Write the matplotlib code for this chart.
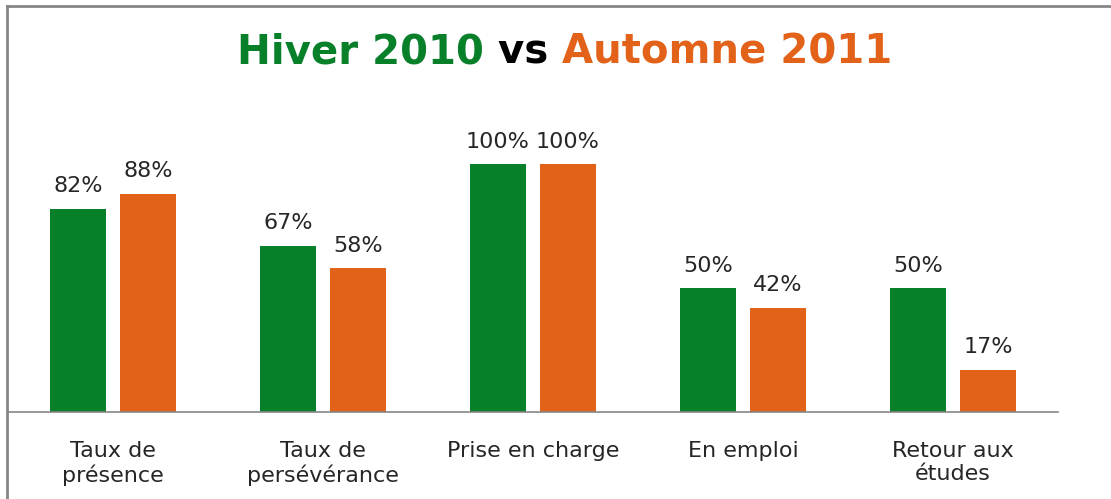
import matplotlib
matplotlib.use("Agg")
import matplotlib.pyplot as plt
import numpy as np
from matplotlib.lines import Line2D

categories = ["Taux de\nprésence", "Taux de\npersévérance", "Prise en charge",
              "En emploi", "Retour aux\nétudes"]
hiver_2010 = [82, 67, 100, 50, 50]
automne_2011 = [88, 58, 100, 42, 17]

GREEN = "#08802A"
ORANGE = "#E3621A"
INK = "#262626"
GRID = "#868686"

W, H = 1111, 499
fig = plt.figure(figsize=(W / 100, H / 100), dpi=100, facecolor="white")

# plot area in pixel coords: baseline y=412, 100% at y=164
base_y, top100 = 412, 164
px_per_unit = (base_y - top100) / 100
ymax = 120
top_y = base_y - ymax * px_per_unit
ax = fig.add_axes([8 / W, 1 - base_y / H, 1050 / W, (base_y - top_y) / H])

x = np.arange(len(categories))
bw = 56 / 210
off = 35 / 210
ax.bar(x - off, hiver_2010, bw, color=GREEN)
ax.bar(x + off, automne_2011, bw, color=ORANGE)

for xs, vals in [(x - off, hiver_2010), (x + off, automne_2011)]:
    for xi, v in zip(xs, vals):
        ax.annotate(f"{v}%", (xi, v), xytext=(0, 9), textcoords="offset points",
                    ha="center", va="bottom", fontsize=16, color=INK,
                    family="DejaVu Sans")

ax.set_xlim(-0.5, len(categories) - 0.5)
ax.set_ylim(0, ymax)
ax.set_yticks([])
ax.set_xticks(x)
ax.set_xticklabels(categories, fontsize=16, color=INK, family="DejaVu Sans",
                   linespacing=1.2)
ax.tick_params(axis="x", length=0, pad=21)
for s in ["top", "right", "left"]:
    ax.spines[s].set_visible(False)
ax.spines["bottom"].set_color(GRID)
ax.spines["bottom"].set_linewidth(1.2)

# chart frame (left and top edges only visible)
fig.add_artist(Line2D([7 / W, 7 / W], [0, 1 - 6 / H], color=GRID, lw=2,
                      transform=fig.transFigure))
fig.add_artist(Line2D([7 / W, 1], [1 - 6 / H, 1 - 6 / H], color=GRID, lw=2,
                      transform=fig.transFigure))

# multi-colour title
parts = [("Hiver 2010 ", GREEN), ("vs ", "black"), ("Automne 2011", ORANGE)]
renderer = fig.canvas.get_renderer()
texts = []
for s, c in parts:
    t = fig.text(0, 1 - 63 / H, s, color=c, fontsize=29, fontweight="bold",
                 family="DejaVu Sans", va="baseline")
    texts.append(t)
widths = [t.get_window_extent(renderer).width for t in texts]
x0 = (565 - sum(widths) / 2)
for t, w in zip(texts, widths):
    t.set_x(x0 / W)
    x0 += w

fig.savefig("out.png", dpi=100, facecolor="white")
